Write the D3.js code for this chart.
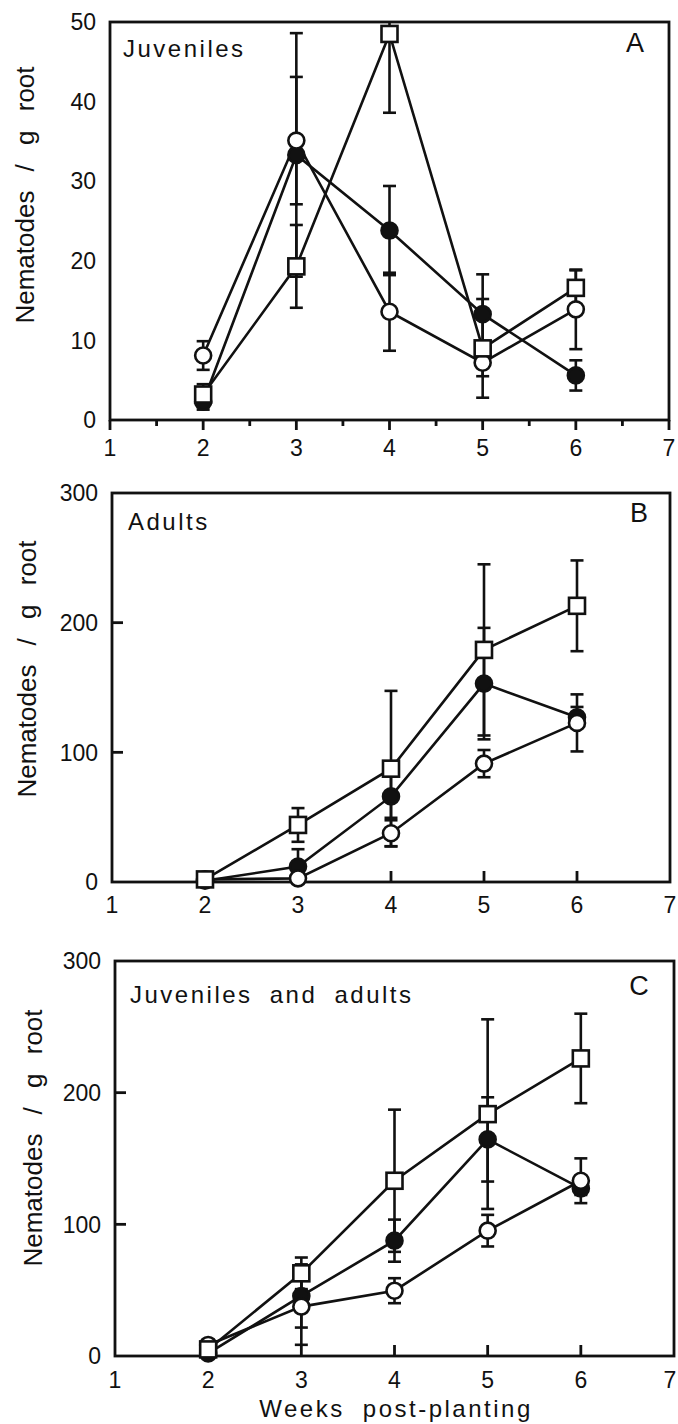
<!DOCTYPE html>
<html lang="en">
<head>
  <meta charset="UTF-8">
  <title>Nematodes / g root</title>
  <style>
    body { margin: 0; background: #ffffff; }
    svg { display: block; }
    text { font-family: "Liberation Sans", Arial, sans-serif; fill: #111111; }
  </style>
</head>
<body>
  <svg id="chart" width="678" height="1424"></svg>
  <script src="https://d3js.org/d3.v7.min.js"></script>
  <script>
    // values
    const weeks = [2, 3, 4, 5, 6];
    const xTicks = [1, 2, 3, 4, 5, 6, 7];
    const panelNames = ["Juveniles", "Adults", "Juveniles and adults"];
    const panelLetters = ["A", "B", "C"];
    const yTicksA = [0, 10, 20, 30, 40, 50];
    const yTicksBC = [0, 100, 200, 300];

    // A: juveniles
    const filledA = [2.3, 33.3, 23.8, 13.3, 5.6];
    const filledErrA = [1.0, 15.3, 5.6, 5.0, 1.9];
    const openA = [8.1, 35.1, 13.6, 7.2, 13.9];
    const openErrA = [1.8, 8.0, 4.9, 1.7, 5.0];
    const squareA = [3.2, 19.3, 48.5, 9.0, 16.6];
    const squareErrA = [1.3, 5.2, 9.9, 6.2, 2.2];

    // B: adults
    const filledB = [1, 11.9, 66, 153, 127];
    const filledErrB = [0.5, 13.4, 16.5, 43, 8];
    const openB = [2, 2.8, 37.6, 91.3, 122.7];
    const openErrB = [0.5, 1, 10, 10.5, 22];
    const squareB = [2, 44, 87.4, 179, 213];
    const squareErrB = [0.5, 13, 60, 66, 35];

    // C: juveniles and adults
    const filledC = [2, 45.6, 87.6, 164.5, 127.3];
    const filledErrC = [1, 24, 16, 32, 5];
    const openC = [8.4, 37.5, 49.6, 95.2, 133.1];
    const openErrC = [1, 29, 9.5, 12, 17];
    const squareC = [5, 62.8, 133.1, 183.7, 226];
    const squareErrC = [1, 12, 54, 72, 34];

    const layout = [
      { left: 110, right: 669, top: 22, bottom: 420, yMax: 50, yTicks: yTicksA, outward: true,
        xLabelDy: 36, yTitle: [34, 195], name: [123, 57], letter: [635, 52] },
      { left: 112, right: 670, top: 493, bottom: 882, yMax: 300, yTicks: yTicksBC, outward: false,
        xLabelDy: 31, yTitle: [36, 669], name: [128, 530], letter: [639, 522] },
      { left: 115, right: 674, top: 961, bottom: 1356, yMax: 300, yTicks: yTicksBC, outward: false,
        xLabelDy: 32, yTitle: [42, 1138], name: [130, 1003], letter: [639, 995] }
    ];

    const seriesByPanel = [
      [
        { kind: "filled", values: filledA, err: filledErrA },
        { kind: "open", values: openA, err: openErrA },
        { kind: "square", values: squareA, err: squareErrA }
      ],
      [
        { kind: "filled", values: filledB, err: filledErrB },
        { kind: "open", values: openB, err: openErrB },
        { kind: "square", values: squareB, err: squareErrB }
      ],
      [
        { kind: "filled", values: filledC, err: filledErrC },
        { kind: "open", values: openC, err: openErrC },
        { kind: "square", values: squareC, err: squareErrC }
      ]
    ];

    const svg = d3.select("#chart");
    const ink = "#111";

    layout.forEach((p, i) => {
      const x = d3.scaleLinear().domain([1, 7]).range([p.left, p.right]);
      const y = d3.scaleLinear().domain([0, p.yMax]).range([p.bottom, p.top]);
      const g = svg.append("g");

      const clipId = "clip" + i;
      svg.append("clipPath").attr("id", clipId)
        .append("rect")
        .attr("x", p.left).attr("y", p.top)
        .attr("width", p.right - p.left).attr("height", p.bottom - p.top);

      // frame
      g.append("rect")
        .attr("x", p.left).attr("y", p.top)
        .attr("width", p.right - p.left).attr("height", p.bottom - p.top)
        .attr("fill", "none").attr("stroke", ink).attr("stroke-width", 2.8);

      // ticks
      if (p.outward) {
        g.selectAll(".maj").data(xTicks).enter().append("line")
          .attr("x1", d => x(d)).attr("x2", d => x(d))
          .attr("y1", p.bottom).attr("y2", p.bottom + 10)
          .attr("stroke", ink).attr("stroke-width", 2.8);
        g.selectAll(".min").data(d3.range(1.5, 7, 1)).enter().append("line")
          .attr("x1", d => x(d)).attr("x2", d => x(d))
          .attr("y1", p.bottom).attr("y2", p.bottom + 6)
          .attr("stroke", ink).attr("stroke-width", 2.8);
      } else {
        g.selectAll(".maj").data(weeks).enter().append("line")
          .attr("x1", d => x(d)).attr("x2", d => x(d))
          .attr("y1", p.bottom).attr("y2", p.bottom - 11)
          .attr("stroke", ink).attr("stroke-width", 2.8);
        g.selectAll(".ytk").data(p.yTicks.slice(1, -1)).enter().append("line")
          .attr("x1", p.left).attr("x2", p.left + 11)
          .attr("y1", d => y(d)).attr("y2", d => y(d))
          .attr("stroke", ink).attr("stroke-width", 2.8);
      }

      // tick labels
      g.selectAll(".xl").data(xTicks).enter().append("text")
        .attr("x", d => Math.min(x(d), 670)).attr("y", p.bottom + p.xLabelDy)
        .attr("text-anchor", "middle").style("font-size", "23px")
        .text(d => d);
      g.selectAll(".yl").data(p.yTicks).enter().append("text")
        .attr("x", p.left - 14).attr("y", d => y(d)).attr("dy", "0.36em")
        .attr("text-anchor", "end").style("font-size", "23px")
        .text(d => d);

      // y title
      g.append("text")
        .attr("transform", `translate(${p.yTitle[0]},${p.yTitle[1]}) rotate(-90)`)
        .attr("text-anchor", "middle")
        .style("font-size", "26px").style("word-spacing", "12px")
        .text("Nematodes / g root");

      // panel texts
      g.append("text").attr("x", p.name[0]).attr("y", p.name[1])
        .style("font-size", "24px").style("letter-spacing", "2.5px").style("word-spacing", "8px")
        .text(panelNames[i]);
      g.append("text").attr("x", p.letter[0]).attr("y", p.letter[1])
        .attr("text-anchor", "middle").style("font-size", "27px")
        .text(panelLetters[i]);

      const plot = g.append("g").attr("clip-path", `url(#${clipId})`);
      const series = seriesByPanel[i];
      const line = d3.line().x((d, k) => x(weeks[k])).y(d => y(d));

      series.forEach(s => {
        plot.append("path").datum(s.values)
          .attr("d", line).attr("fill", "none")
          .attr("stroke", ink).attr("stroke-width", 2.6);
      });

      series.forEach(s => {
        const eb = plot.append("g").attr("stroke", ink).attr("stroke-width", 2.6);
        s.values.forEach((v, k) => {
          const cx = x(weeks[k]);
          const hi = y(v + s.err[k]), lo = y(v - s.err[k]);
          eb.append("line").attr("x1", cx).attr("x2", cx).attr("y1", hi).attr("y2", lo);
          eb.append("line").attr("x1", cx - 6.5).attr("x2", cx + 6.5).attr("y1", hi).attr("y2", hi);
          eb.append("line").attr("x1", cx - 6.5).attr("x2", cx + 6.5).attr("y1", lo).attr("y2", lo);
        });
      });

      series.forEach(s => {
        const mk = g.append("g");
        s.values.forEach((v, k) => {
          const cx = x(weeks[k]), cy = y(v);
          if (s.kind === "square") {
            mk.append("rect").attr("x", cx - 8).attr("y", cy - 8)
              .attr("width", 16).attr("height", 16)
              .attr("fill", "#fff").attr("stroke", ink).attr("stroke-width", 2.6);
          } else {
            mk.append("circle").attr("cx", cx).attr("cy", cy).attr("r", 8)
              .attr("fill", s.kind === "filled" ? ink : "#fff")
              .attr("stroke", ink).attr("stroke-width", 2.6);
          }
        });
      });
    });

    // x title
    svg.append("text")
      .attr("x", 396).attr("y", 1417)
      .attr("text-anchor", "middle")
      .style("font-size", "24px").style("letter-spacing", "2.5px").style("word-spacing", "9px")
      .text("Weeks post-planting");
  </script>
</body>
</html>
